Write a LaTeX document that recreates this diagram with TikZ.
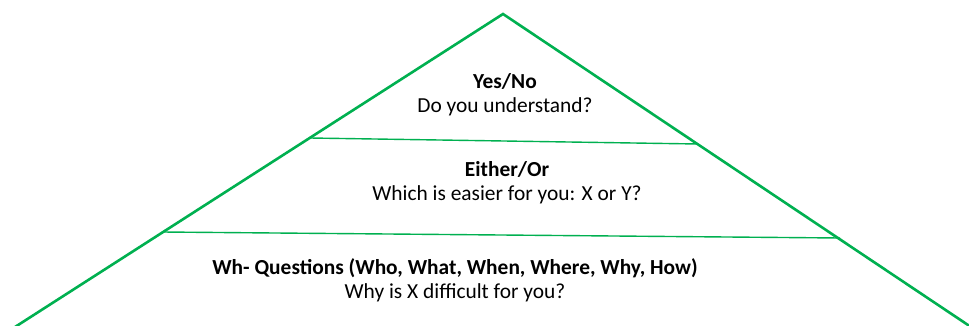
\documentclass[tikz,border=0pt]{standalone}
\usepackage{fontspec}
\setmainfont{Carlito}
\definecolor{pgreen}{HTML}{00B050}
\begin{document}
\begin{tikzpicture}[x=1pt,y=-1pt,
  edge/.style={draw=pgreen,line width=2.6pt},
  divider/.style={draw=pgreen,line width=1.4pt},
  lbl/.style={font=\fontsize{21.4}{24}\selectfont,align=center,inner sep=0pt}]
\useasboundingbox (0,0) rectangle (969,326);
\clip (0,0) rectangle (969,326);
\coordinate (apex) at (503,14);
\coordinate (bl) at (15,327);
\coordinate (br) at (971,327);
\coordinate (d1l) at (310,138);
\coordinate (d1r) at (698,144);
\coordinate (d2l) at (162,232);
\coordinate (d2r) at (840,238);
\draw[edge] (bl) -- (apex) -- (br);
\draw[divider] (d1l) -- (d1r);
\draw[divider] (d2l) -- (d2r);
\node[lbl] (t1) at (505,95) {\textbf{Yes/No}\\Do you understand?};
\node[lbl] (t2) at (507,183) {\textbf{Either/Or}\\Which is easier for you: X or Y?};
\node[lbl] (t3) at (455,280) {\textbf{Wh- Questions (Who, What, When, Where, Why, How)}\\Why is X difficult for you?};
\end{tikzpicture}
\end{document}
